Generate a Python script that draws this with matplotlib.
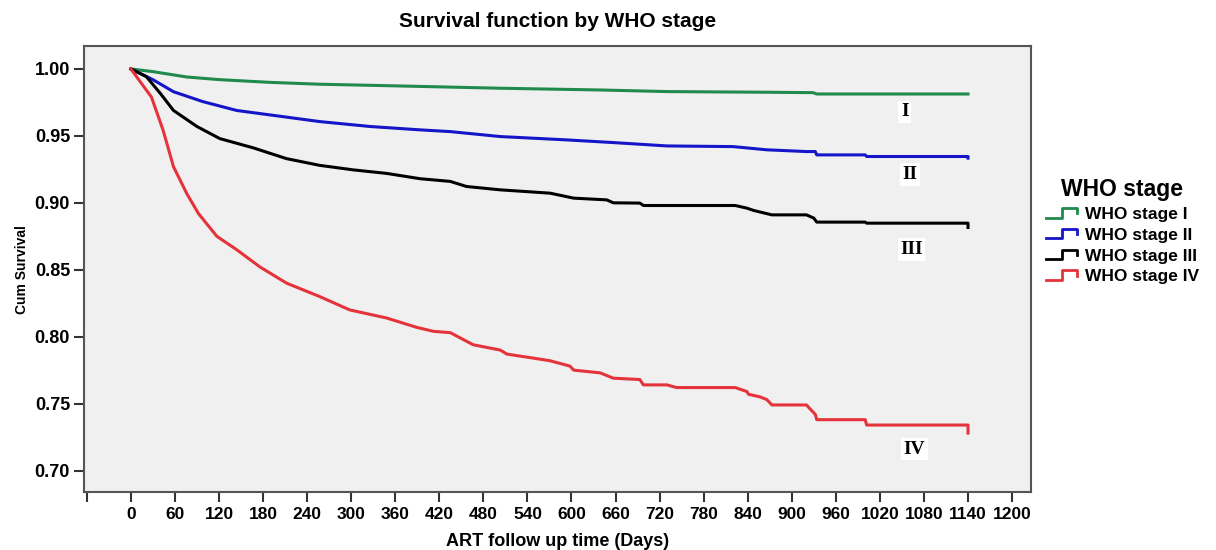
import numpy as np
import matplotlib.pyplot as plt
from matplotlib.lines import Line2D
from matplotlib.legend_handler import HandlerBase

# survival curves (days, cum survival);
# repeated days mark the visible drops of the Kaplan-Meier steps
t_I = [0, 30, 76, 121, 189, 257, 366, 503, 639, 730, 866, 929, 934, 1140]
s_I = [1.0, 0.998, 0.994, 0.992, 0.990, 0.9886, 0.9873, 0.9856, 0.9843, 0.9831,
       0.9826, 0.9823, 0.9813, 0.9813]

t_II = [0, 30, 58, 98, 144, 189, 257, 326, 394, 435, 503, 594, 657, 730, 820,
        866, 920, 932, 934, 1000, 1002, 1140, 1140]
s_II = [1.0, 0.992, 0.983, 0.9756, 0.969, 0.9657, 0.9607, 0.957, 0.9545, 0.9532,
        0.9495, 0.947, 0.945, 0.9425, 0.942, 0.9396, 0.9383, 0.9383, 0.9358,
        0.9358, 0.9346, 0.9346, 0.9334]

t_III = [0, 21, 40, 58, 90, 121, 167, 212, 257, 303, 348, 394, 435, 457, 503,
         571, 603, 648, 657, 693, 698, 823, 839, 848, 873, 920, 930, 934, 1000,
         1002, 1140, 1140]
s_III = [1.0, 0.9943, 0.9818, 0.969, 0.957, 0.948, 0.941, 0.933, 0.928, 0.9246,
         0.922, 0.918, 0.916, 0.9122, 0.9097, 0.9072, 0.9035, 0.9022, 0.900,
         0.8998, 0.898, 0.898, 0.896, 0.8943, 0.891, 0.891, 0.8886, 0.8856,
         0.8856, 0.8848, 0.8848, 0.8816]

t_IV = [0, 28, 44, 58, 76, 92, 117, 144, 176, 212, 257, 298, 348, 389, 412, 435,
        466, 503, 512, 548, 571, 598, 603, 639, 657, 693, 698, 730, 743, 823, 839,
        841, 857, 866, 873, 920, 925, 932, 934, 1000, 1002, 1140, 1140]
s_IV = [1.0, 0.979, 0.954, 0.927, 0.907, 0.892, 0.875, 0.865, 0.852, 0.840, 0.830,
        0.820, 0.814, 0.807, 0.804, 0.803, 0.794, 0.790, 0.787, 0.784, 0.782, 0.778,
        0.775, 0.773, 0.769, 0.768, 0.764, 0.764, 0.762, 0.762, 0.759, 0.757,
        0.755, 0.753, 0.749, 0.749, 0.746, 0.742, 0.738, 0.738, 0.734, 0.734, 0.728]

stages = ["I", "II", "III", "IV"]
times = [t_I, t_II, t_III, t_IV]
surv = [s_I, s_II, s_III, s_IV]
colors = ["#1f8a4c", "#1414c8", "#000000", "#e5333b"]
label_pos = [(1054, 0.968), (1061, 0.921), (1063, 0.865), (1067, 0.716)]

x_ticks = list(range(0, 1201, 60))
y_ticks = [0.70, 0.75, 0.80, 0.85, 0.90, 0.95, 1.00]

plt.rcParams['font.family'] = ['Liberation Sans', 'DejaVu Sans']


class StepHandler(HandlerBase):
    def create_artists(self, legend, orig_handle, xdescent, ydescent, width,
                       height, fontsize, trans):
        xs = np.array([0.0, 0.45, 0.45, 0.85, 0.85]) * width - xdescent
        ys = np.array([0.1, 0.1, 0.9, 0.9, 0.45]) * height - ydescent
        ln = Line2D(xs, ys, color=orig_handle.get_color(), lw=2)
        ln.set_transform(trans)
        return [ln]


fig = plt.figure(figsize=(12.16, 5.5), dpi=100)
ax = fig.add_axes([0.069, 0.1055, 0.779, 0.8105])
ax.set_facecolor("#f0f0f0")

handles = []
for st, t, s, c in zip(stages, times, surv, colors):
    h, = ax.plot(t, s, color=c, lw=2.2, label="WHO stage " + st)
    handles.append(h)

for st, (lx, ly) in zip(stages, label_pos):
    ax.text(lx, ly, st, family="Liberation Serif", fontweight="bold", fontsize=14,
            ha="center", va="center",
            bbox=dict(facecolor="white", edgecolor="none", pad=2))

ax.set_xlim(-64, 1226)
ax.set_ylim(0.684, 1.017)
ax.set_xticks([-60] + x_ticks)
ax.set_xticklabels([""] + [str(v) for v in x_ticks])
ax.set_yticks(y_ticks)
ax.set_yticklabels(["%.2f" % v for v in y_ticks])
ax.tick_params(axis="x", length=7, width=1.5, color="#333333", labelsize=12.5, pad=4)
ax.tick_params(axis="y", length=7, width=1.5, color="#333333", labelsize=13, pad=3)
for lab in ax.get_xticklabels() + ax.get_yticklabels():
    lab.set_fontweight("bold")
for sp in ax.spines.values():
    sp.set_color("#555555")
    sp.set_linewidth(1.5)

ax.set_title("Survival function by WHO stage", fontsize=15, fontweight="bold", pad=14)
ax.set_xlabel("ART follow up time (Days)", fontsize=13, fontweight="bold", labelpad=8)
ax.set_ylabel("Cum Survival", fontsize=10, fontweight="bold", labelpad=4)

leg = fig.legend(handles=handles, loc="upper left", bbox_to_anchor=(0.847, 0.705),
                 frameon=False, title="WHO stage", fontsize=12.5,
                 title_fontproperties={"size": 16.5, "weight": "bold"},
                 handler_map={Line2D: StepHandler()}, handlelength=2.1,
                 handletextpad=0.15, labelspacing=0.33)
for txt in leg.get_texts():
    txt.set_fontweight("bold")

fig.savefig("out.png", dpi=100)
